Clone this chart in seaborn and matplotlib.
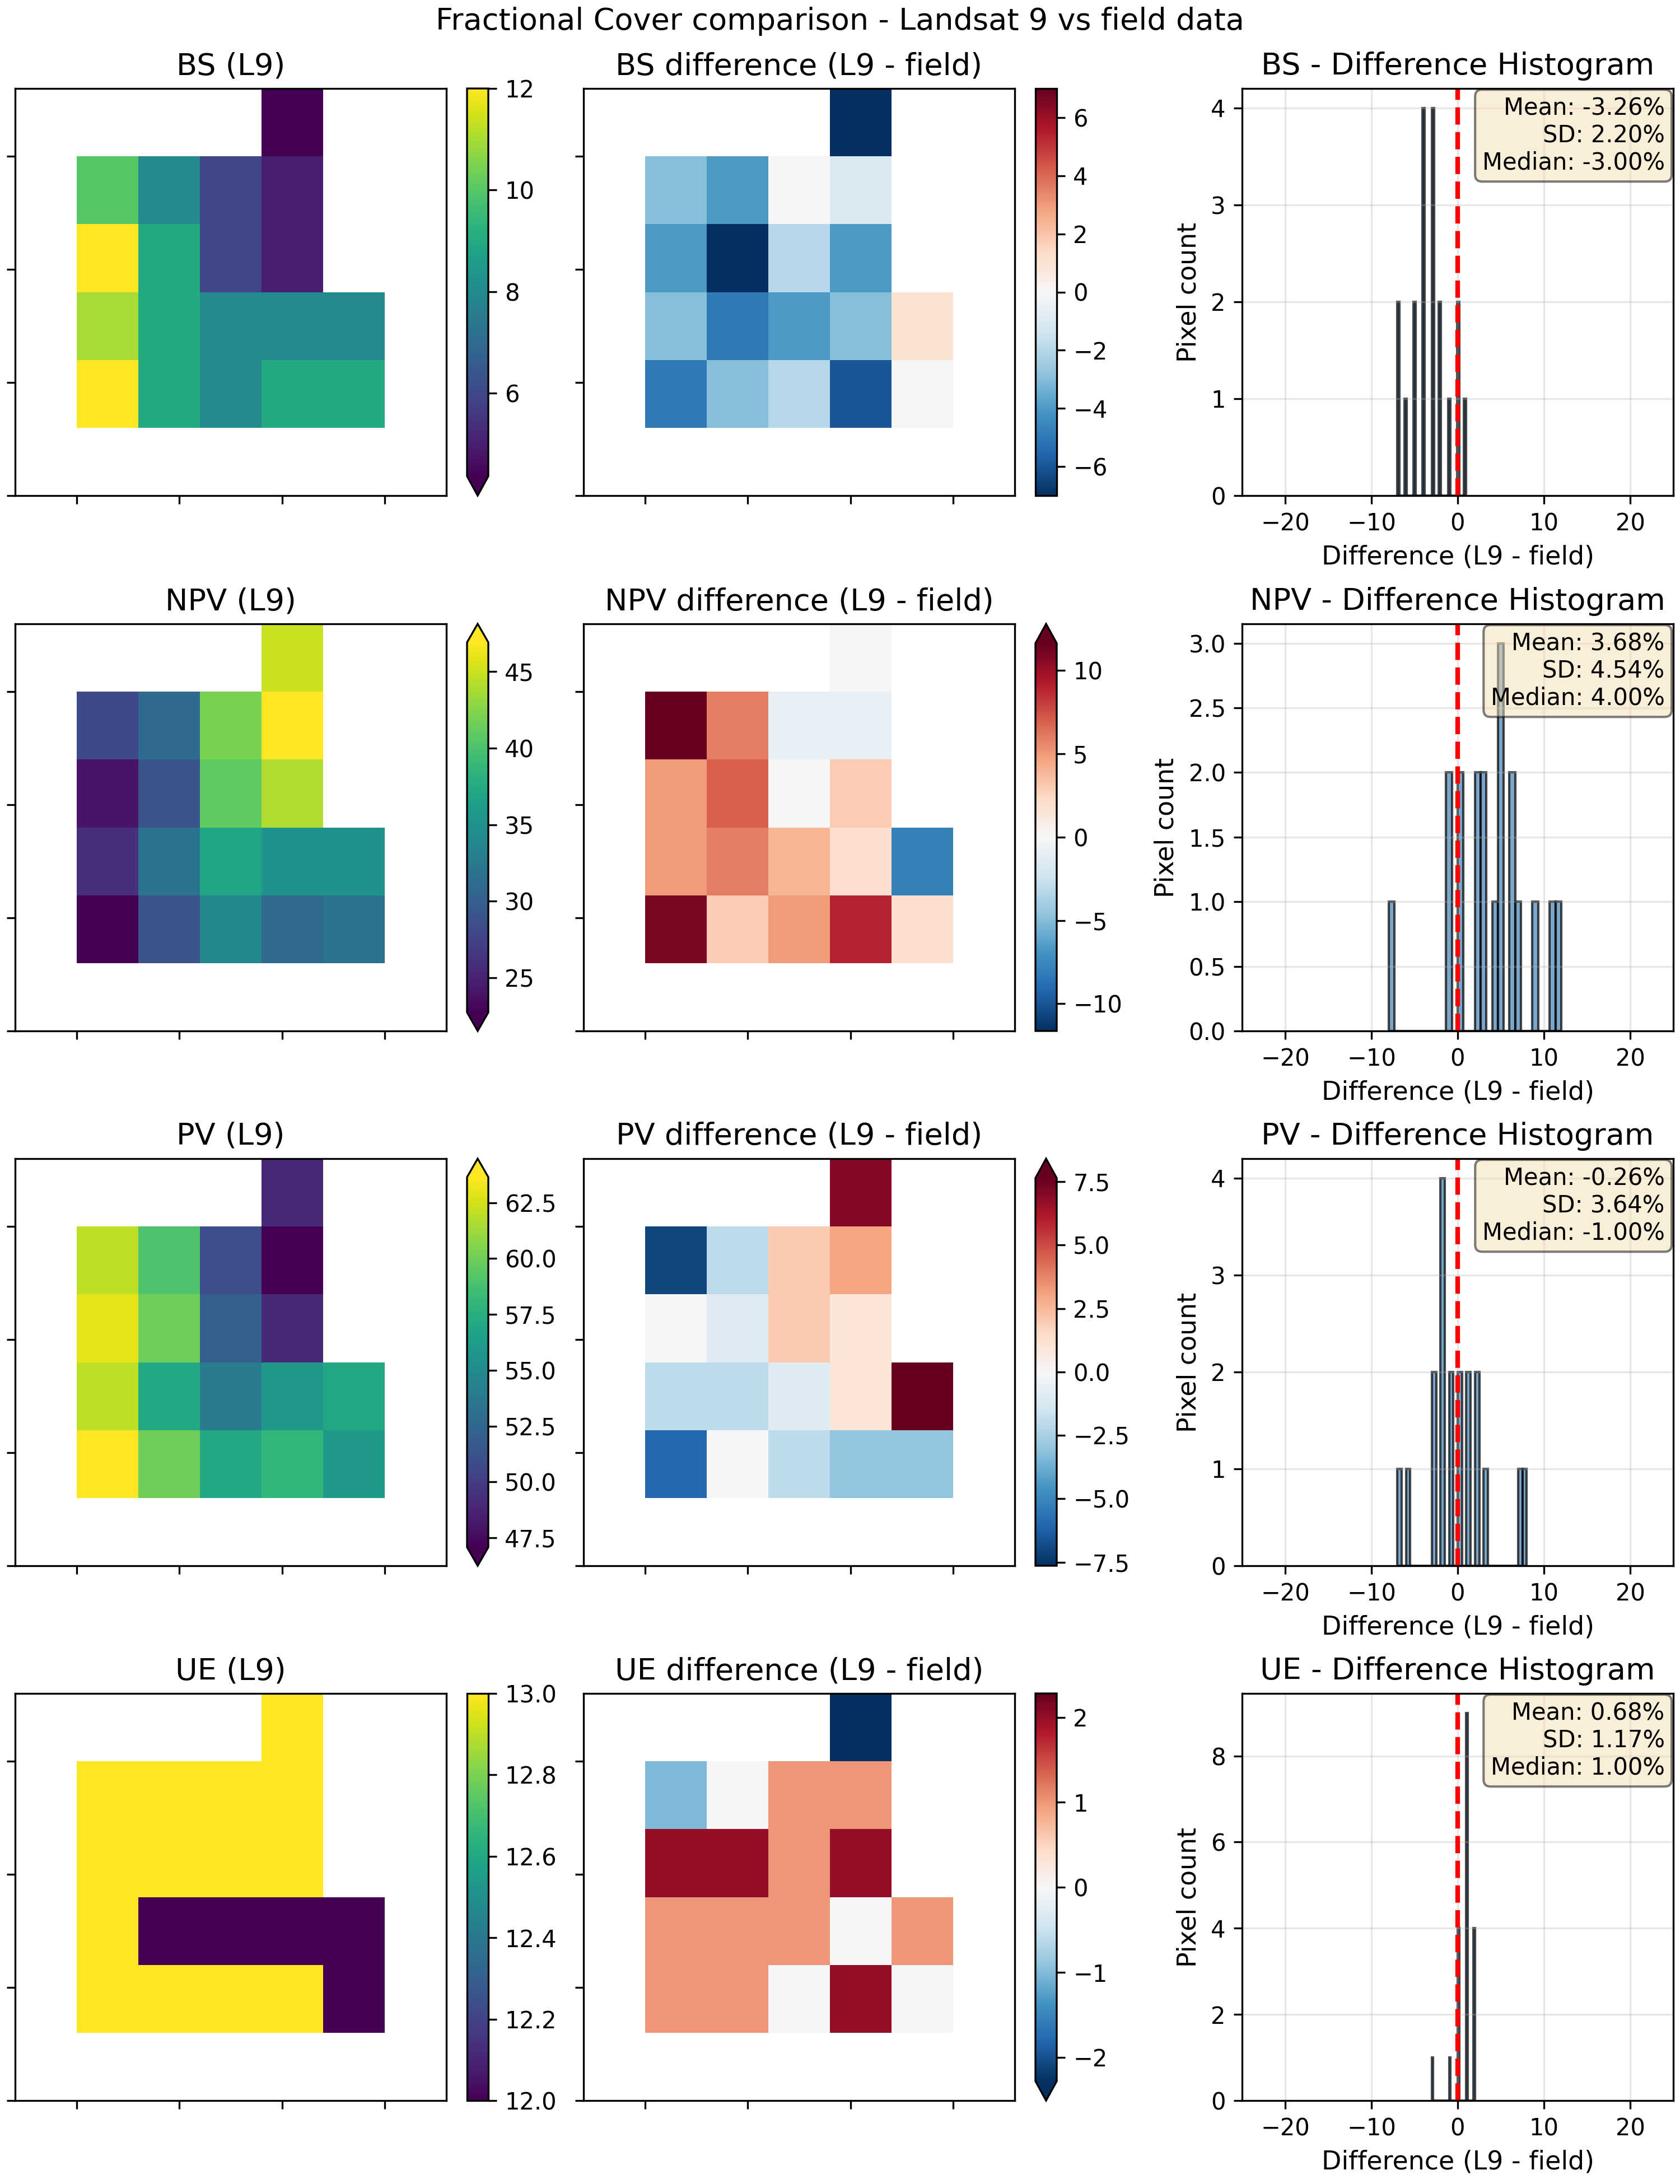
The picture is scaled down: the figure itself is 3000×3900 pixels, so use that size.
import numpy as np
import matplotlib
matplotlib.use('Agg')
import matplotlib.pyplot as plt
from matplotlib import ticker
import seaborn as sns

nan = np.nan

# 组分名称
components = ['BS', 'NPV', 'PV', 'UE']

# Landsat 9 fractional cover (%), 6 rows x 7 cols, NaN outside the site
bs_l9 = [
    [nan, nan, nan, nan, 4, nan, nan],
    [nan, 10, 8, 6, 5, nan, nan],
    [nan, 12, 9, 6, 5, nan, nan],
    [nan, 11, 9, 8, 8, 8, nan],
    [nan, 12, 9, 8, 9, 9, nan],
    [nan, nan, nan, nan, nan, nan, nan],
]
npv_l9 = [
    [nan, nan, nan, nan, 45, nan, nan],
    [nan, 28, 31, 42, 48, nan, nan],
    [nan, 24, 29, 41, 44, nan, nan],
    [nan, 26, 32, 37, 35, 35, nan],
    [nan, 22, 29, 34, 31, 32, nan],
    [nan, nan, nan, nan, nan, nan, nan],
]
pv_l9 = [
    [nan, nan, nan, nan, 49, nan, nan],
    [nan, 62, 59, 51, 46, nan, nan],
    [nan, 63, 60, 52, 49, nan, nan],
    [nan, 62, 57, 54, 56, 57, nan],
    [nan, 64, 60, 57, 58, 56, nan],
    [nan, nan, nan, nan, nan, nan, nan],
]
ue_l9 = [
    [nan, nan, nan, nan, 13, nan, nan],
    [nan, 13, 13, 13, 13, nan, nan],
    [nan, 13, 13, 13, 13, nan, nan],
    [nan, 13, 12, 12, 12, 12, nan],
    [nan, 13, 13, 13, 13, 12, nan],
    [nan, nan, nan, nan, nan, nan, nan],
]

# Difference L9 - field (%)
bs_diff = [
    [nan, nan, nan, nan, -7, nan, nan],
    [nan, -3, -4, 0, -1, nan, nan],
    [nan, -4, -7, -2, -4, nan, nan],
    [nan, -3, -5, -4, -3, 1, nan],
    [nan, -5, -3, -2, -6, 0, nan],
    [nan, nan, nan, nan, nan, nan, nan],
]
npv_diff = [
    [nan, nan, nan, nan, 0, nan, nan],
    [nan, 12, 6, -1, -1, nan, nan],
    [nan, 5, 7, 0, 3, nan, nan],
    [nan, 5, 6, 4, 2, -8, nan],
    [nan, 11, 3, 5, 9, 2, nan],
    [nan, nan, nan, nan, nan, nan, nan],
]
pv_diff = [
    [nan, nan, nan, nan, 7, nan, nan],
    [nan, -7, -2, 2, 3, nan, nan],
    [nan, 0, -1, 2, 1, nan, nan],
    [nan, -2, -2, -1, 1, 8, nan],
    [nan, -6, 0, -2, -3, -3, nan],
    [nan, nan, nan, nan, nan, nan, nan],
]
ue_diff = [
    [nan, nan, nan, nan, -3, nan, nan],
    [nan, -1, 0, 1, 1, nan, nan],
    [nan, 2, 2, 1, 2, nan, nan],
    [nan, 1, 1, 1, 0, 1, nan],
    [nan, 1, 1, 0, 2, 0, nan],
    [nan, nan, nan, nan, nan, nan, nan],
]

l9_maps = {'BS': bs_l9, 'NPV': npv_l9, 'PV': pv_l9, 'UE': ue_l9}
diff_maps = {'BS': bs_diff, 'NPV': npv_diff, 'PV': pv_diff, 'UE': ue_diff}

# 坐标刻度 (50 m 间隔, 30 m 像元)
map_ticks = np.array([30, 80, 130, 180]) / 30

W, H = 3000, 3900
fig = plt.figure(figsize=(10, 13), dpi=300)


def px_axes(x0, y0, w, h):
    return fig.add_axes([x0 / W, 1 - (y0 + h) / H, w / W, h / H])


def extend_for(data, vmin, vmax):
    low = np.nanmin(data) < vmin
    high = np.nanmax(data) > vmax
    if low and high:
        return 'both'
    if low:
        return 'min'
    if high:
        return 'max'
    return 'neither'


def style_map(ax, title):
    for s in ax.spines.values():
        s.set_visible(True)
        s.set_linewidth(0.8)
    ax.set_xticks(map_ticks)
    ax.set_xticklabels([])
    ax.set_yticks(map_ticks)
    ax.set_yticklabels([])
    ax.tick_params(length=3.5, width=0.8)
    ax.set_title(title, fontsize=13)
    cb = ax.collections[0].colorbar
    cb.outline.set_linewidth(0.8)
    cb.outline.set_edgecolor('black')
    cb.locator = ticker.MaxNLocator(nbins=7, steps=[1, 2, 2.5, 5, 10])
    cb.update_ticks()


row_top = [158, 1114, 2069, 3024]
ax_h = 727

for i, name in enumerate(components):
    top = row_top[i]
    l9 = np.array(l9_maps[name], dtype=float)
    diff = np.array(diff_maps[name], dtype=float)

    # L9 map
    vmin, vmax = np.nanpercentile(l9, [2, 98])
    ax = px_axes(27, top, 770, ax_h)
    cax = px_axes(834, top, 38, ax_h)
    sns.heatmap(l9, ax=ax, cbar_ax=cax, cmap='viridis', vmin=vmin, vmax=vmax,
                cbar_kws={'extend': extend_for(l9, vmin, vmax)})
    style_map(ax, f'{name} (L9)')

    # difference map
    p2, p98 = np.nanpercentile(diff, [2, 98])
    dmax = max(abs(p2), abs(p98))
    ax = px_axes(1042, top, 770, ax_h)
    cax = px_axes(1849, top, 38, ax_h)
    sns.heatmap(diff, ax=ax, cbar_ax=cax, cmap='RdBu_r', vmin=-dmax, vmax=dmax,
                cbar_kws={'extend': extend_for(diff, -dmax, dmax)})
    style_map(ax, f'{name} difference (L9 - field)')

    # histogram
    vals = diff[~np.isnan(diff)]
    ax = px_axes(2218, top, 770, ax_h)
    sns.histplot(x=vals, bins=30, color='steelblue', edgecolor=(0, 0, 0, 0.7),
                 alpha=0.7, linewidth=1.0, ax=ax)
    ax.axvline(0, color='red', linestyle='--', linewidth=2)
    ax.set_xlim(-25, 25)
    ax.set_xlabel('Difference (L9 - field)', fontsize=11)
    ax.set_ylabel('Pixel count', fontsize=11)
    ax.set_title(f'{name} - Difference Histogram', fontsize=13)
    ax.grid(True, alpha=0.3)
    stats = (f'Mean: {vals.mean():.2f}%\n'
             f'SD: {vals.std():.2f}%\n'
             f'Median: {np.median(vals):.2f}%')
    ax.text(0.98, 0.98, stats, transform=ax.transAxes, ha='right', va='top',
            fontsize=10, bbox=dict(boxstyle='round', facecolor='wheat', alpha=0.5))

fig.suptitle('Fractional Cover comparison - Landsat 9 vs field data',
             fontsize=13, y=0.997)
fig.savefig('out.png', dpi=300)
plt.close(fig)
